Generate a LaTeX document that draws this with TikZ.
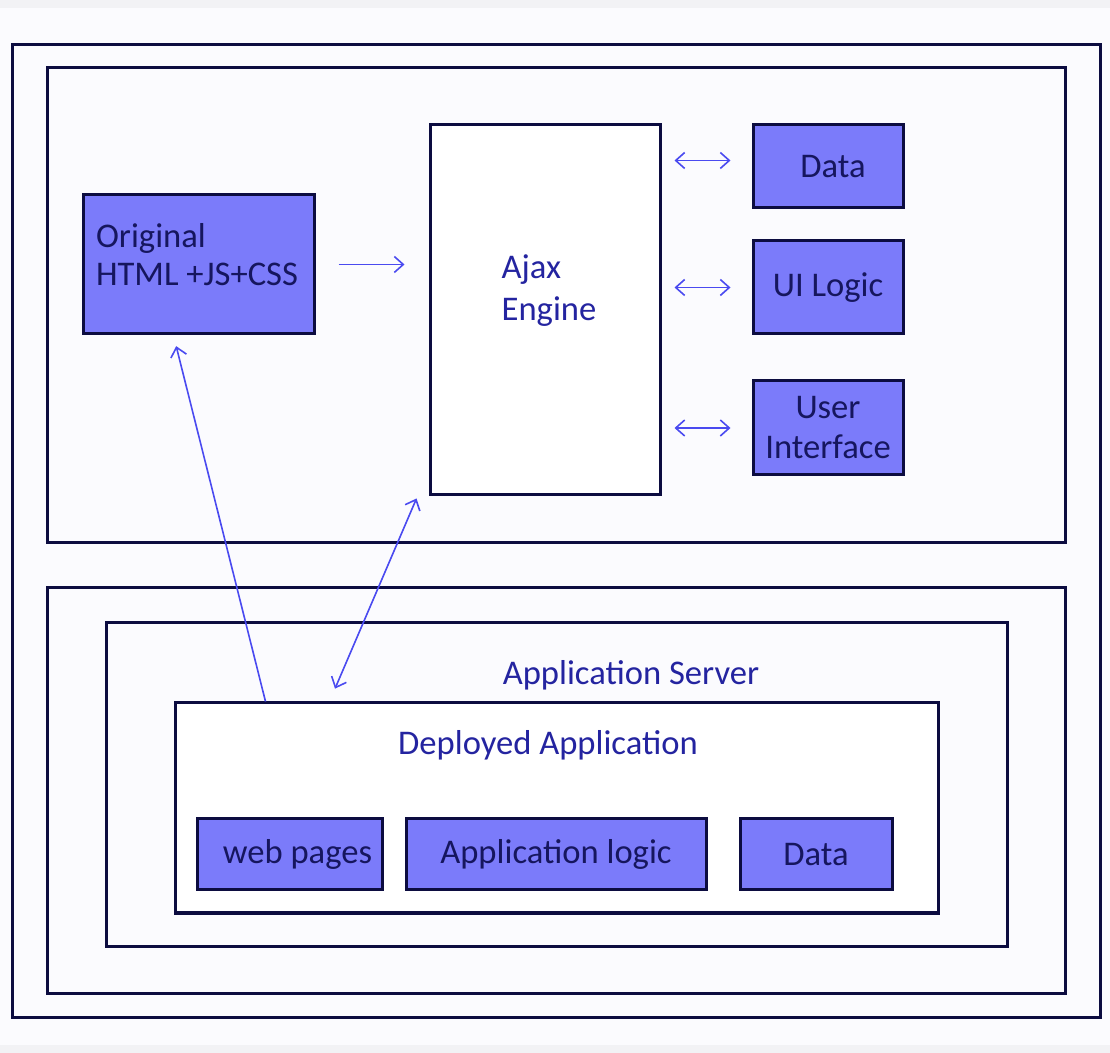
\documentclass[tikz,border=0pt]{standalone}
\usepackage{fontspec}
\setmainfont{Carlito}
\usetikzlibrary{arrows.meta}
\definecolor{FrameNavy}{HTML}{0C0C40}
\definecolor{BoxBlue}{HTML}{7B7BFA}
\definecolor{LabelNavy}{HTML}{2424A0}
\definecolor{BoxInk}{HTML}{16165E}
\definecolor{LinkBlue}{HTML}{4A4AF0}
\definecolor{PageTint}{HTML}{FBFBFE}
\definecolor{StripGrey}{HTML}{F2F2F5}
\tikzset{
  barb/.tip={Straight Barb[length=4.5pt,width=8pt,line width=0.8pt]},
  link/.style={draw=LinkBlue, line width=0.8pt, -barb},
  twoway/.style={link, barb-barb}
}

\begin{document}
\begin{tikzpicture}[
  x=0.5pt, y=-0.5pt,
  font=\fontsize{17.3}{19}\selectfont, text=LabelNavy,
  panel/.style={draw=FrameNavy, line width=1.5pt, inner sep=0pt},
  bluebox/.style={panel, fill=BoxBlue, align=center, text=BoxInk},
  plainbox/.style={panel, fill=white}
]
% page
\fill[PageTint] (0,0) rectangle (1110,1053);
\fill[StripGrey] (0,0) rectangle (1110,8);
\fill[StripGrey] (0,1045) rectangle (1110,1053);
\useasboundingbox (0,0) rectangle (1110,1053);

% frames
\node[panel, minimum width=544pt, minimum height=486pt] (outer) at (556,531) {};
\node[panel, minimum width=509pt, minimum height=237.5pt] (client) at (556,305.5) {};
\node[panel, minimum width=509pt, minimum height=202.5pt] (server) at (556,790.5) {};
\node[panel, minimum width=450.5pt, minimum height=161.5pt] (appsrv) at (556.5,784.5) {};
\node[panel, fill=white, minimum width=381.5pt, minimum height=105pt] (deployed) at (556.5,808) {};

% browser side
\node[bluebox, minimum width=115.5pt, minimum height=69.5pt] (orig) at (198.5,264.5) {};
\node[anchor=west, align=left, text=BoxInk] (origtext) at (89,255) {Original\\HTML +JS+CSS};
\node[plainbox, minimum width=115pt, minimum height=185pt] (ajax) at (545,310) {};
\node[align=left, font=\fontsize{17.3}{21}\selectfont] (ajaxtext) at (549,291) {Ajax\\Engine};

\node[bluebox, minimum width=75pt, minimum height=41.5pt] (data) at (828,166.5) {\hspace*{5pt}Data};
\node[bluebox, minimum width=75pt, minimum height=46.5pt] (uilogic) at (828,287.5) {UI Logic};
\node[bluebox, minimum width=75pt, minimum height=47pt, font=\fontsize{17.3}{20}\selectfont] (userif) at (828,428) {User\\Interface};

% server side
\node (srvtext) at (631,675) {Application Server};
\node (deptext) at (548,745) {Deployed Application};
\node[bluebox, minimum width=92.5pt, minimum height=35.5pt] (webpages) at (289.5,854.5) {\hspace*{8pt}web pages};
\node[bluebox, minimum width=150pt, minimum height=35.5pt] (applogic) at (556,854.5) {Application logic};
\node[bluebox, minimum width=76pt, minimum height=35.5pt] (appdata) at (816,854.5) {Data};

% connectors
\draw[link, shorten <=11.5pt, shorten >=12pt] (orig.east) -- (orig.east -| ajax.west);
\draw[twoway, shorten <=6.5pt, shorten >=10.5pt] ([yshift=3pt]data.west -| ajax.east) -- ([yshift=3pt]data.west);
\draw[twoway, shorten <=6.5pt, shorten >=10.5pt] (uilogic.west -| ajax.east) -- (uilogic.west);
\draw[twoway, shorten <=6.5pt, shorten >=10.5pt] (userif.west -| ajax.east) -- (userif.west);
\draw[link, shorten >=5.5pt] ([xshift=46pt]deployed.north west) -- ([xshift=46pt]orig.south west);
\draw[twoway, shorten >=7pt] ([xshift=-6pt,yshift=-1pt]ajax.south west) -- ([xshift=78pt]deployed.north west);
\end{tikzpicture}
\end{document}
